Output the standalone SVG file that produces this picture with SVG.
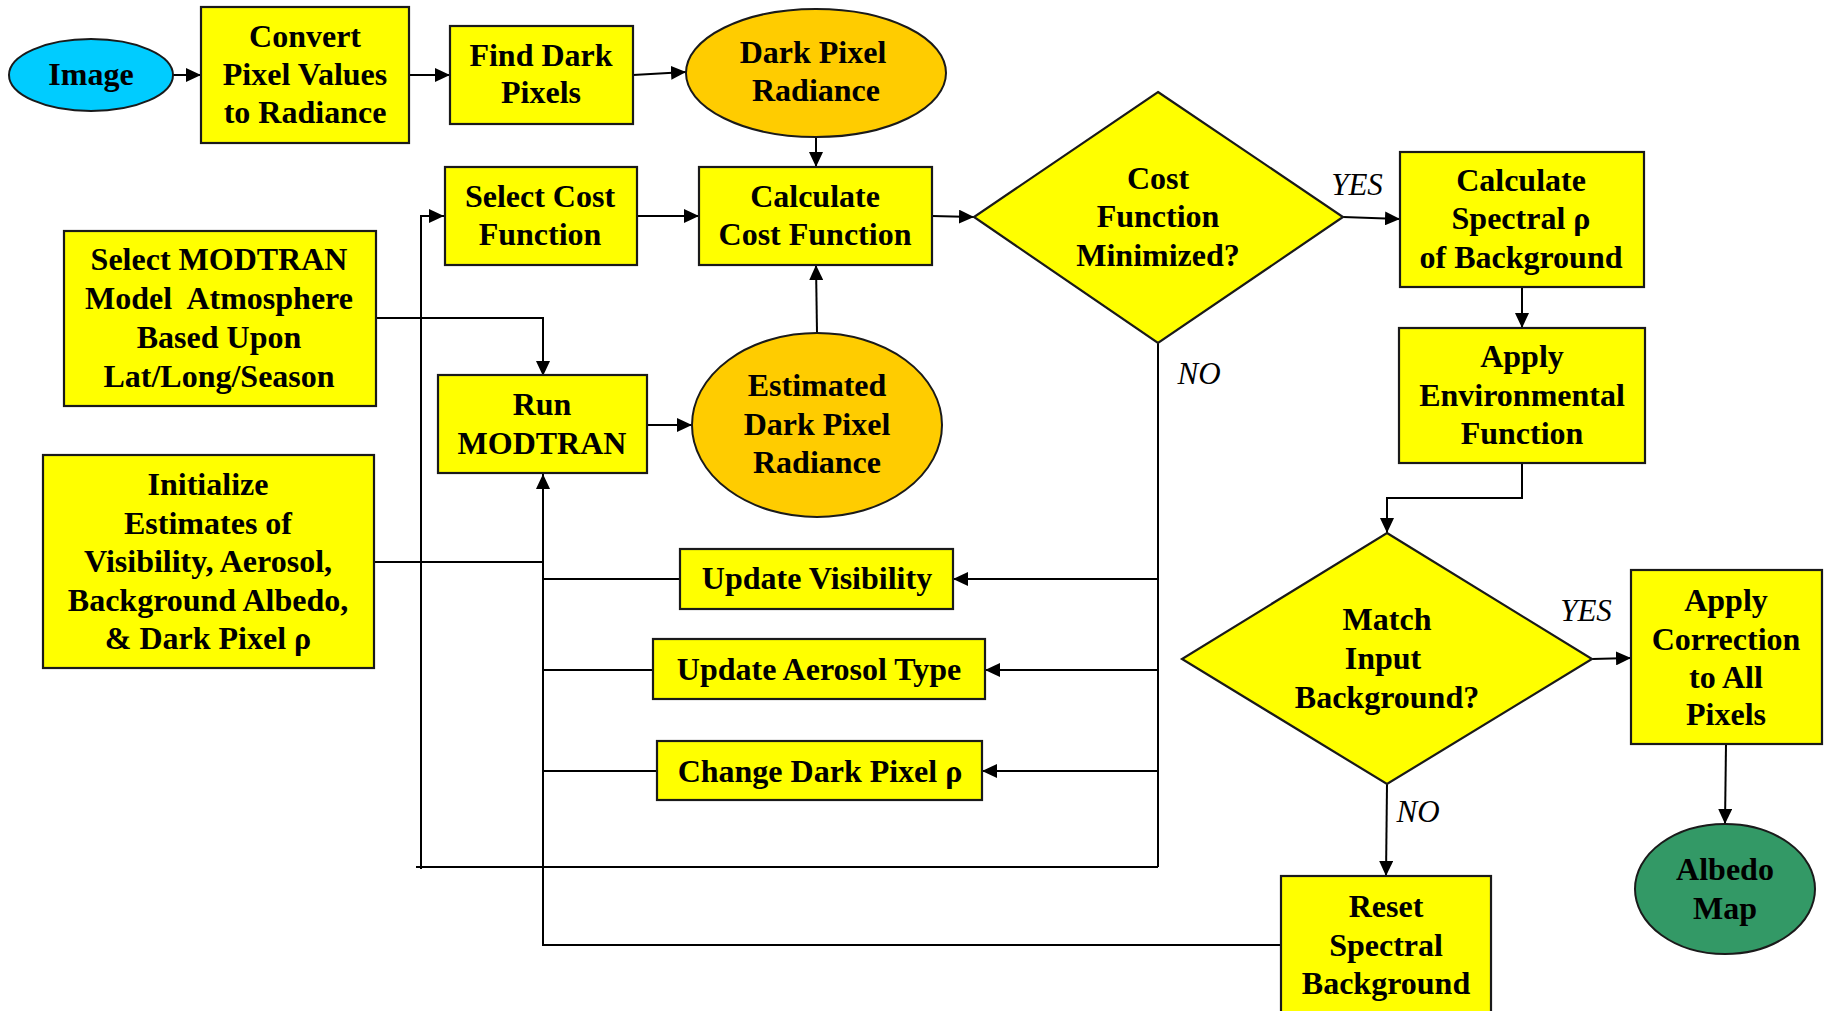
<svg xmlns="http://www.w3.org/2000/svg" width="1829" height="1011" viewBox="0 0 1829 1011">
<defs>
<marker id="ah" viewBox="0 0 15 14" refX="15" refY="7" markerWidth="15" markerHeight="14" markerUnits="userSpaceOnUse" orient="auto">
<path d="M0,0 L15,7 L0,14 Z" fill="#000"/>
</marker>
</defs>
<style>
.box{fill:#FFFF00;stroke:#1a1a1a;stroke-width:2.2}
.orange{fill:#FFCC00;stroke:#1a1a1a;stroke-width:2}
.blue{fill:#00CCFF;stroke:#1a1a1a;stroke-width:2}
.green{fill:#339966;stroke:#1a1a1a;stroke-width:2}
.t{font-family:"Liberation Serif","Times New Roman",serif;font-weight:bold;font-size:32px;fill:#000;text-anchor:middle}
.lbl{font-family:"Liberation Serif","Times New Roman",serif;font-style:italic;font-size:31px;fill:#000;text-anchor:middle}
.c{fill:none;stroke:#000;stroke-width:2}
.a{fill:none;stroke:#000;stroke-width:2;marker-end:url(#ah)}
</style>
<rect width="1829" height="1011" fill="#fff"/>
<g id="connectors">
<line class="a" x1="173" y1="75" x2="201" y2="75"/>
<line class="a" x1="409" y1="75" x2="450" y2="75"/>
<line class="a" x1="633" y1="75" x2="686" y2="72"/>
<line class="a" x1="816" y1="138" x2="816" y2="167"/>
<line class="a" x1="636" y1="216" x2="699" y2="216"/>
<line class="a" x1="932" y1="216" x2="974" y2="217"/>
<line class="a" x1="817" y1="333" x2="816" y2="265"/>
<line class="a" x1="1343" y1="217" x2="1400" y2="219"/>
<line class="a" x1="1522" y1="287" x2="1522" y2="328"/>
<polyline class="a" points="1522,463 1522,498 1387,498 1387,533"/>
<line class="a" x1="1592" y1="659" x2="1631" y2="658"/>
<line class="a" x1="1726" y1="744" x2="1725" y2="824"/>
<line class="a" x1="1387" y1="784" x2="1386" y2="876"/>
<line class="c" x1="1158" y1="343" x2="1158" y2="867"/>
<line class="a" x1="1158" y1="579" x2="953" y2="579"/>
<line class="a" x1="1158" y1="670" x2="985" y2="670"/>
<line class="a" x1="1158" y1="771" x2="982" y2="771"/>
<line class="c" x1="1158" y1="867" x2="416" y2="867"/>
<polyline class="a" points="421,869 421,216 444,216"/>
<polyline class="a" points="376,318 543,318 543,376"/>
<line class="a" x1="647" y1="425" x2="692" y2="425"/>
<line class="c" x1="374" y1="562" x2="543" y2="562"/>
<polyline class="a" points="1281,945 543,945 543,474"/>
<line class="c" x1="680" y1="579" x2="543" y2="579"/>
<line class="c" x1="653" y1="670" x2="543" y2="670"/>
<line class="c" x1="657" y1="771" x2="543" y2="771"/>
</g>
<g id="image"><ellipse class="blue" cx="91" cy="75" rx="82" ry="36"/><text class="t" x="91" y="85">Image</text></g>
<g id="convert"><rect class="box" x="201" y="7" width="208" height="136"/><text class="t" x="305" y="47">Convert</text><text class="t" x="305" y="85">Pixel Values</text><text class="t" x="305" y="123">to Radiance</text></g>
<g id="find-dark"><rect class="box" x="450" y="26" width="183" height="98"/><text class="t" x="541" y="66">Find Dark</text><text class="t" x="541" y="103">Pixels</text></g>
<g id="dark-radiance"><ellipse class="orange" cx="816" cy="73" rx="130" ry="64"/><text class="t" x="813" y="63">Dark Pixel</text><text class="t" x="816" y="101">Radiance</text></g>
<g id="select-cost"><rect class="box" x="445" y="167" width="192" height="98"/><text class="t" x="540" y="207">Select Cost</text><text class="t" x="540" y="245">Function</text></g>
<g id="calc-cost"><rect class="box" x="699" y="167" width="233" height="98"/><text class="t" x="815" y="207">Calculate</text><text class="t" x="815" y="245">Cost Function</text></g>
<g id="cost-min"><polygon class="box" points="1158,92 1343,217 1158,343 974,217"/><text class="t" x="1158" y="189">Cost</text><text class="t" x="1158" y="227">Function</text><text class="t" x="1158" y="266">Minimized?</text></g>
<g id="spectral"><rect class="box" x="1400" y="152" width="244" height="135"/><text class="t" x="1521" y="191">Calculate</text><text class="t" x="1521" y="229">Spectral ρ</text><text class="t" x="1521" y="268">of Background</text></g>
<g id="env"><rect class="box" x="1399" y="328" width="246" height="135"/><text class="t" x="1522" y="367">Apply</text><text class="t" x="1522" y="406">Environmental</text><text class="t" x="1522" y="444">Function</text></g>
<g id="select-modtran"><rect class="box" x="64" y="231" width="312" height="175"/><text class="t" x="219" y="270">Select MODTRAN</text><text class="t" x="219" y="309" xml:space="preserve">Model  Atmosphere</text><text class="t" x="219" y="348">Based Upon</text><text class="t" x="219" y="387">Lat/Long/Season</text></g>
<g id="run-modtran"><rect class="box" x="438" y="375" width="209" height="98"/><text class="t" x="542" y="415">Run</text><text class="t" x="542" y="454">MODTRAN</text></g>
<g id="est-radiance"><ellipse class="orange" cx="817" cy="425" rx="125" ry="92"/><text class="t" x="817" y="396">Estimated</text><text class="t" x="817" y="435">Dark Pixel</text><text class="t" x="817" y="473">Radiance</text></g>
<g id="initialize"><rect class="box" x="43" y="455" width="331" height="213"/><text class="t" x="208" y="495">Initialize</text><text class="t" x="208" y="534">Estimates of</text><text class="t" x="208" y="572">Visibility, Aerosol,</text><text class="t" x="208" y="611">Background Albedo,</text><text class="t" x="208" y="649">&amp; Dark Pixel ρ</text></g>
<g id="upd-vis"><rect class="box" x="680" y="549" width="273" height="60"/><text class="t" x="817" y="589">Update Visibility</text></g>
<g id="upd-aer"><rect class="box" x="653" y="639" width="332" height="60"/><text class="t" x="819" y="680">Update Aerosol Type</text></g>
<g id="chg-dark"><rect class="box" x="657" y="741" width="325" height="59"/><text class="t" x="820" y="782">Change Dark Pixel ρ</text></g>
<g id="match"><polygon class="box" points="1387,533 1592,659 1387,784 1182,659"/><text class="t" x="1387" y="630">Match</text><text class="t" x="1383" y="669">Input</text><text class="t" x="1387" y="708">Background?</text></g>
<g id="apply-corr"><rect class="box" x="1631" y="570" width="191" height="174"/><text class="t" x="1726" y="611">Apply</text><text class="t" x="1726" y="650">Correction</text><text class="t" x="1726" y="688">to All</text><text class="t" x="1726" y="725">Pixels</text></g>
<g id="albedo"><ellipse class="green" cx="1725" cy="889" rx="90" ry="65"/><text class="t" x="1725" y="880">Albedo</text><text class="t" x="1725" y="919">Map</text></g>
<g id="reset"><rect class="box" x="1281" y="876" width="210" height="150"/><text class="t" x="1386" y="917">Reset</text><text class="t" x="1386" y="956">Spectral</text><text class="t" x="1386" y="994">Background</text></g>
<g id="labels"><text class="lbl" x="1357" y="195">YES</text><text class="lbl" x="1199" y="384">NO</text><text class="lbl" x="1586" y="621">YES</text><text class="lbl" x="1418" y="822">NO</text></g>
</svg>
